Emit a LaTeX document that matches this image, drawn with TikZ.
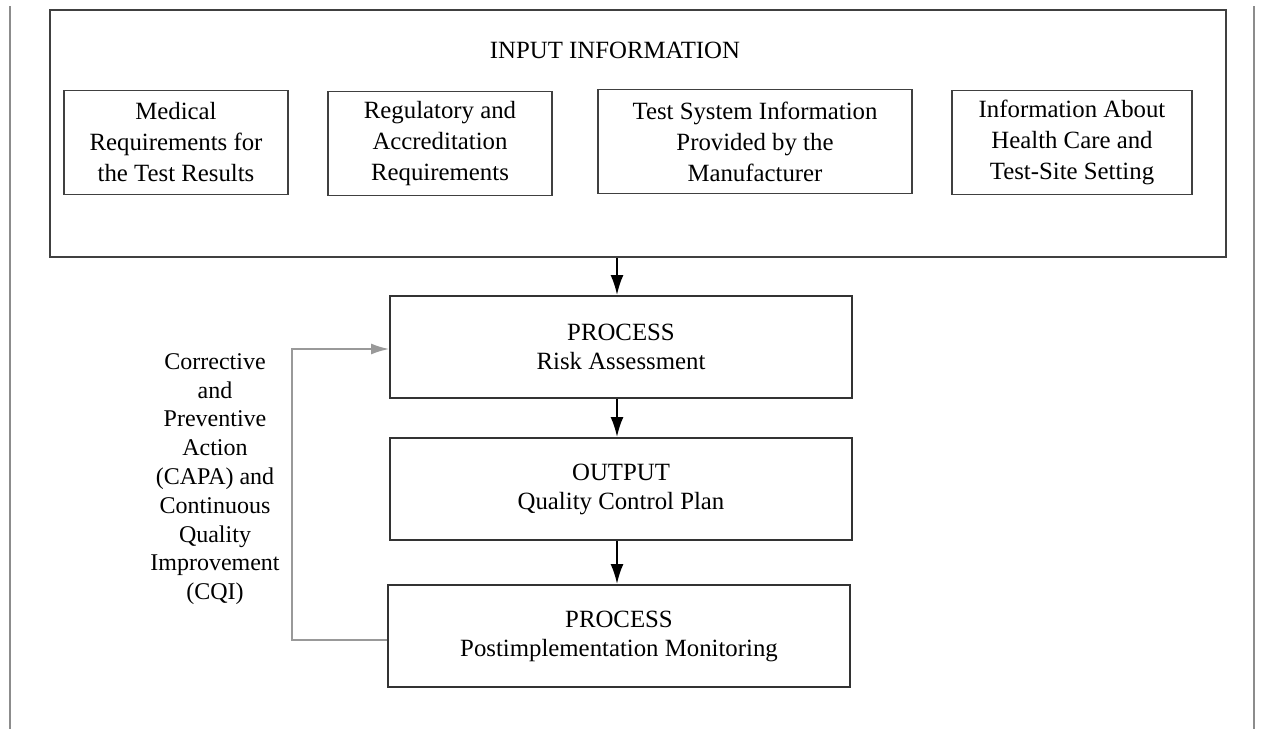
\documentclass[tikz,border=0pt]{standalone}
\usepackage{fontspec}
\setmainfont{Liberation Serif}
\usetikzlibrary{arrows.meta}
\begin{document}
\begin{tikzpicture}[x=0.5pt,y=-0.5pt,
  inbox/.style={draw=black!75, line width=0.9pt, align=center, inner sep=0pt, minimum height=52pt, font=\fontsize{12.4}{15.5}\selectfont},
  stepbox/.style={draw=black!80, line width=1pt, align=center, inner sep=0pt, minimum width=231pt, minimum height=51pt, font=\fontsize{12.4}{14.5}\selectfont},
  arr/.style={-{Latex[length=10pt,width=6.5pt]}, line width=1pt},
  side/.style={draw=black!45, line width=1pt}]
  \useasboundingbox (0,0) rectangle (1262,729);

  % page rules
  \draw[side] (10,6) -- (10,729);
  \draw[side] (1254,6) -- (1254,729);

  % input information
  \node[draw=black!75, line width=1.4pt, minimum width=588pt, minimum height=123.5pt, inner sep=0pt] (inp) at (638,133.5) {};
  \node[font=\fontsize{12.4}{15}\selectfont] (title) at (615,50) {INPUT INFORMATION};

  \node[inbox, minimum width=112pt] (med) at (176,142.5) {Medical\\Requirements for\\the Test Results};
  \node[inbox, minimum width=112pt] (reg) at (440,143.5) {Regulatory and\\Accreditation\\Requirements};
  \node[inbox, minimum width=157pt] (sys) at (755,141.5) {Test System Information\\Provided by the\\Manufacturer};
  \node[inbox, minimum width=120pt] (hc) at (1072,142.5) {Information About\\Health Care and\\Test-Site Setting};

  % process chain
  \node[stepbox] (risk) at (621,347) {PROCESS\\Risk Assessment};
  \node[stepbox] (qcp) at (621,489) {OUTPUT\\Quality Control Plan};
  \node[stepbox] (mon) at (619,636) {PROCESS\\Postimplementation Monitoring};

  \node[align=center, font=\fontsize{12}{14.4}\selectfont] (capa) at (215,479) {Corrective\\and\\Preventive\\Action\\(CAPA) and\\Continuous\\Quality\\Improvement\\(CQI)};

  \draw[arr] ([xshift=-2pt]risk.north |- inp.south) -- ([xshift=-2pt]risk.north);
  \draw[arr] ([xshift=-2pt]risk.south) -- ([xshift=-2pt]qcp.north);
  \draw[arr] ([xshift=-2pt]qcp.south) -- ([xshift=-2pt]qcp.south |- mon.north);
  \draw[-{Latex[length=9pt,width=5.5pt]}, draw=black!40, line width=0.8pt] ([yshift=-2pt]mon.west) -- ++(-95,0) |- ([yshift=-1pt]risk.west);
\end{tikzpicture}
\end{document}
